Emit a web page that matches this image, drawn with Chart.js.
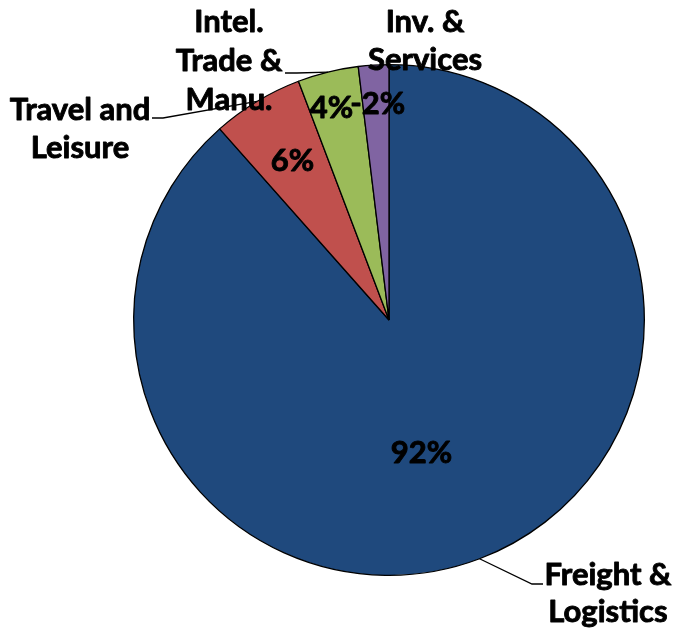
<!DOCTYPE html>
<html>
<head>
<meta charset="utf-8">
<script src="https://cdn.jsdelivr.net/npm/chart.js@4/dist/chart.umd.min.js"></script>
<style>
  html, body { margin: 0; padding: 0; background: #fff; }
  #wrap { width: 673px; height: 630px; position: relative; }
</style>
</head>
<body>
<div id="wrap"><canvas id="c"></canvas></div>
<script>
// ---- data ----
const categories = ["Freight & Logistics", "Travel and Leisure", "Intel. Trade & Manu.", "Inv. & Services"];
const shareValues = [92, 6, 4, 2];            // slice sizes (absolute)
const shareLabels = ["92%", "6%", "4%", "-2%"]; // printed percentages
const categoryLines = [["Freight &", "Logistics"], ["Travel and", "Leisure"], ["Intel.", "Trade &", "Manu."], ["Inv. &", "Services"]];

// ---- styles / layout ----
const sliceColors = ["#1F497D", "#C0504D", "#9BBB59", "#8064A2"];
const FONT = "bold 31px Lato, 'Liberation Sans Narrow', sans-serif";
// outer label layout: centre x, first baseline y, line height, leader start + knee
const outerLayout = [
  { x: 608, y: 585, lh: 37, leader: [[543, 584], [532, 584]] },
  { x: 80,  y: 120, lh: 38, leader: [[152, 118], [163, 118]] },
  { x: 229, y: 32,  lh: 39, leader: [[285, 73], [297, 73]] },
  { x: 425, y: 32,  lh: 38, leader: null }
];
// inner label placement: fraction of radius along slice mid-angle, plus nudge
const innerLayout = [
  { f: 0.536, dx: -16, dy: 5 },
  { f: 0.73,  dx: 0,   dy: 1 },
  { f: 0.875, dx: -4,  dy: 5 },
  { f: 0.86,  dx: 2,   dy: 3 }
];

function drawText(ctx, t, x, y) {
  ctx.fillText(t, x, y);
  ctx.strokeText(t, x, y);
}

const labelPlugin = {
  id: 'pieLabels',
  afterDatasetsDraw(chart) {
    const ctx = chart.ctx;
    const meta = chart.getDatasetMeta(0);
    ctx.save();
    ctx.font = FONT;
    ctx.fillStyle = '#000';
    ctx.textAlign = 'center';
    meta.data.forEach((arc, i) => {
      const p = arc.getProps(['x', 'y', 'startAngle', 'endAngle', 'outerRadius'], true);
      const mid = (p.startAngle + p.endAngle) / 2;
      // leader line
      const L = outerLayout[i];
      if (L.leader) {
        const ex = p.x + Math.cos(mid) * p.outerRadius;
        const ey = p.y + Math.sin(mid) * p.outerRadius;
        ctx.beginPath();
        ctx.strokeStyle = '#000';
        ctx.lineWidth = 1.3;
        ctx.moveTo(L.leader[0][0], L.leader[0][1]);
        ctx.lineTo(L.leader[1][0], L.leader[1][1]);
        ctx.lineTo(ex, ey);
        ctx.stroke();
      }
    });
    ctx.strokeStyle = '#000';
    ctx.lineWidth = 0.9;
    ctx.lineJoin = 'round';
    meta.data.forEach((arc, i) => {
      const p = arc.getProps(['x', 'y', 'startAngle', 'endAngle', 'outerRadius'], true);
      const mid = (p.startAngle + p.endAngle) / 2;
      const I = innerLayout[i];
      const r = p.outerRadius * I.f;
      ctx.textBaseline = 'middle';
      drawText(ctx, shareLabels[i], p.x + Math.cos(mid) * r + I.dx, p.y + Math.sin(mid) * r + I.dy);
    });
    // outer category labels
    ctx.textBaseline = 'alphabetic';
    categoryLines.forEach((lines, i) => {
      const L = outerLayout[i];
      lines.forEach((t, k) => drawText(ctx, t, L.x, L.y + k * L.lh));
    });
    ctx.restore();
  }
};

new Chart(document.getElementById('c'), {
  type: 'pie',
  data: {
    labels: categories,
    datasets: [{
      data: shareValues,
      backgroundColor: sliceColors,
      borderColor: '#000',
      borderWidth: 1.3
    }]
  },
  options: {
    responsive: true,
    maintainAspectRatio: false,
    animation: false,
    layout: { padding: { left: 133, right: 28, top: 64, bottom: 54 } },
    plugins: { legend: { display: false }, tooltip: { enabled: false } }
  },
  plugins: [labelPlugin]
});
</script>
</body>
</html>
